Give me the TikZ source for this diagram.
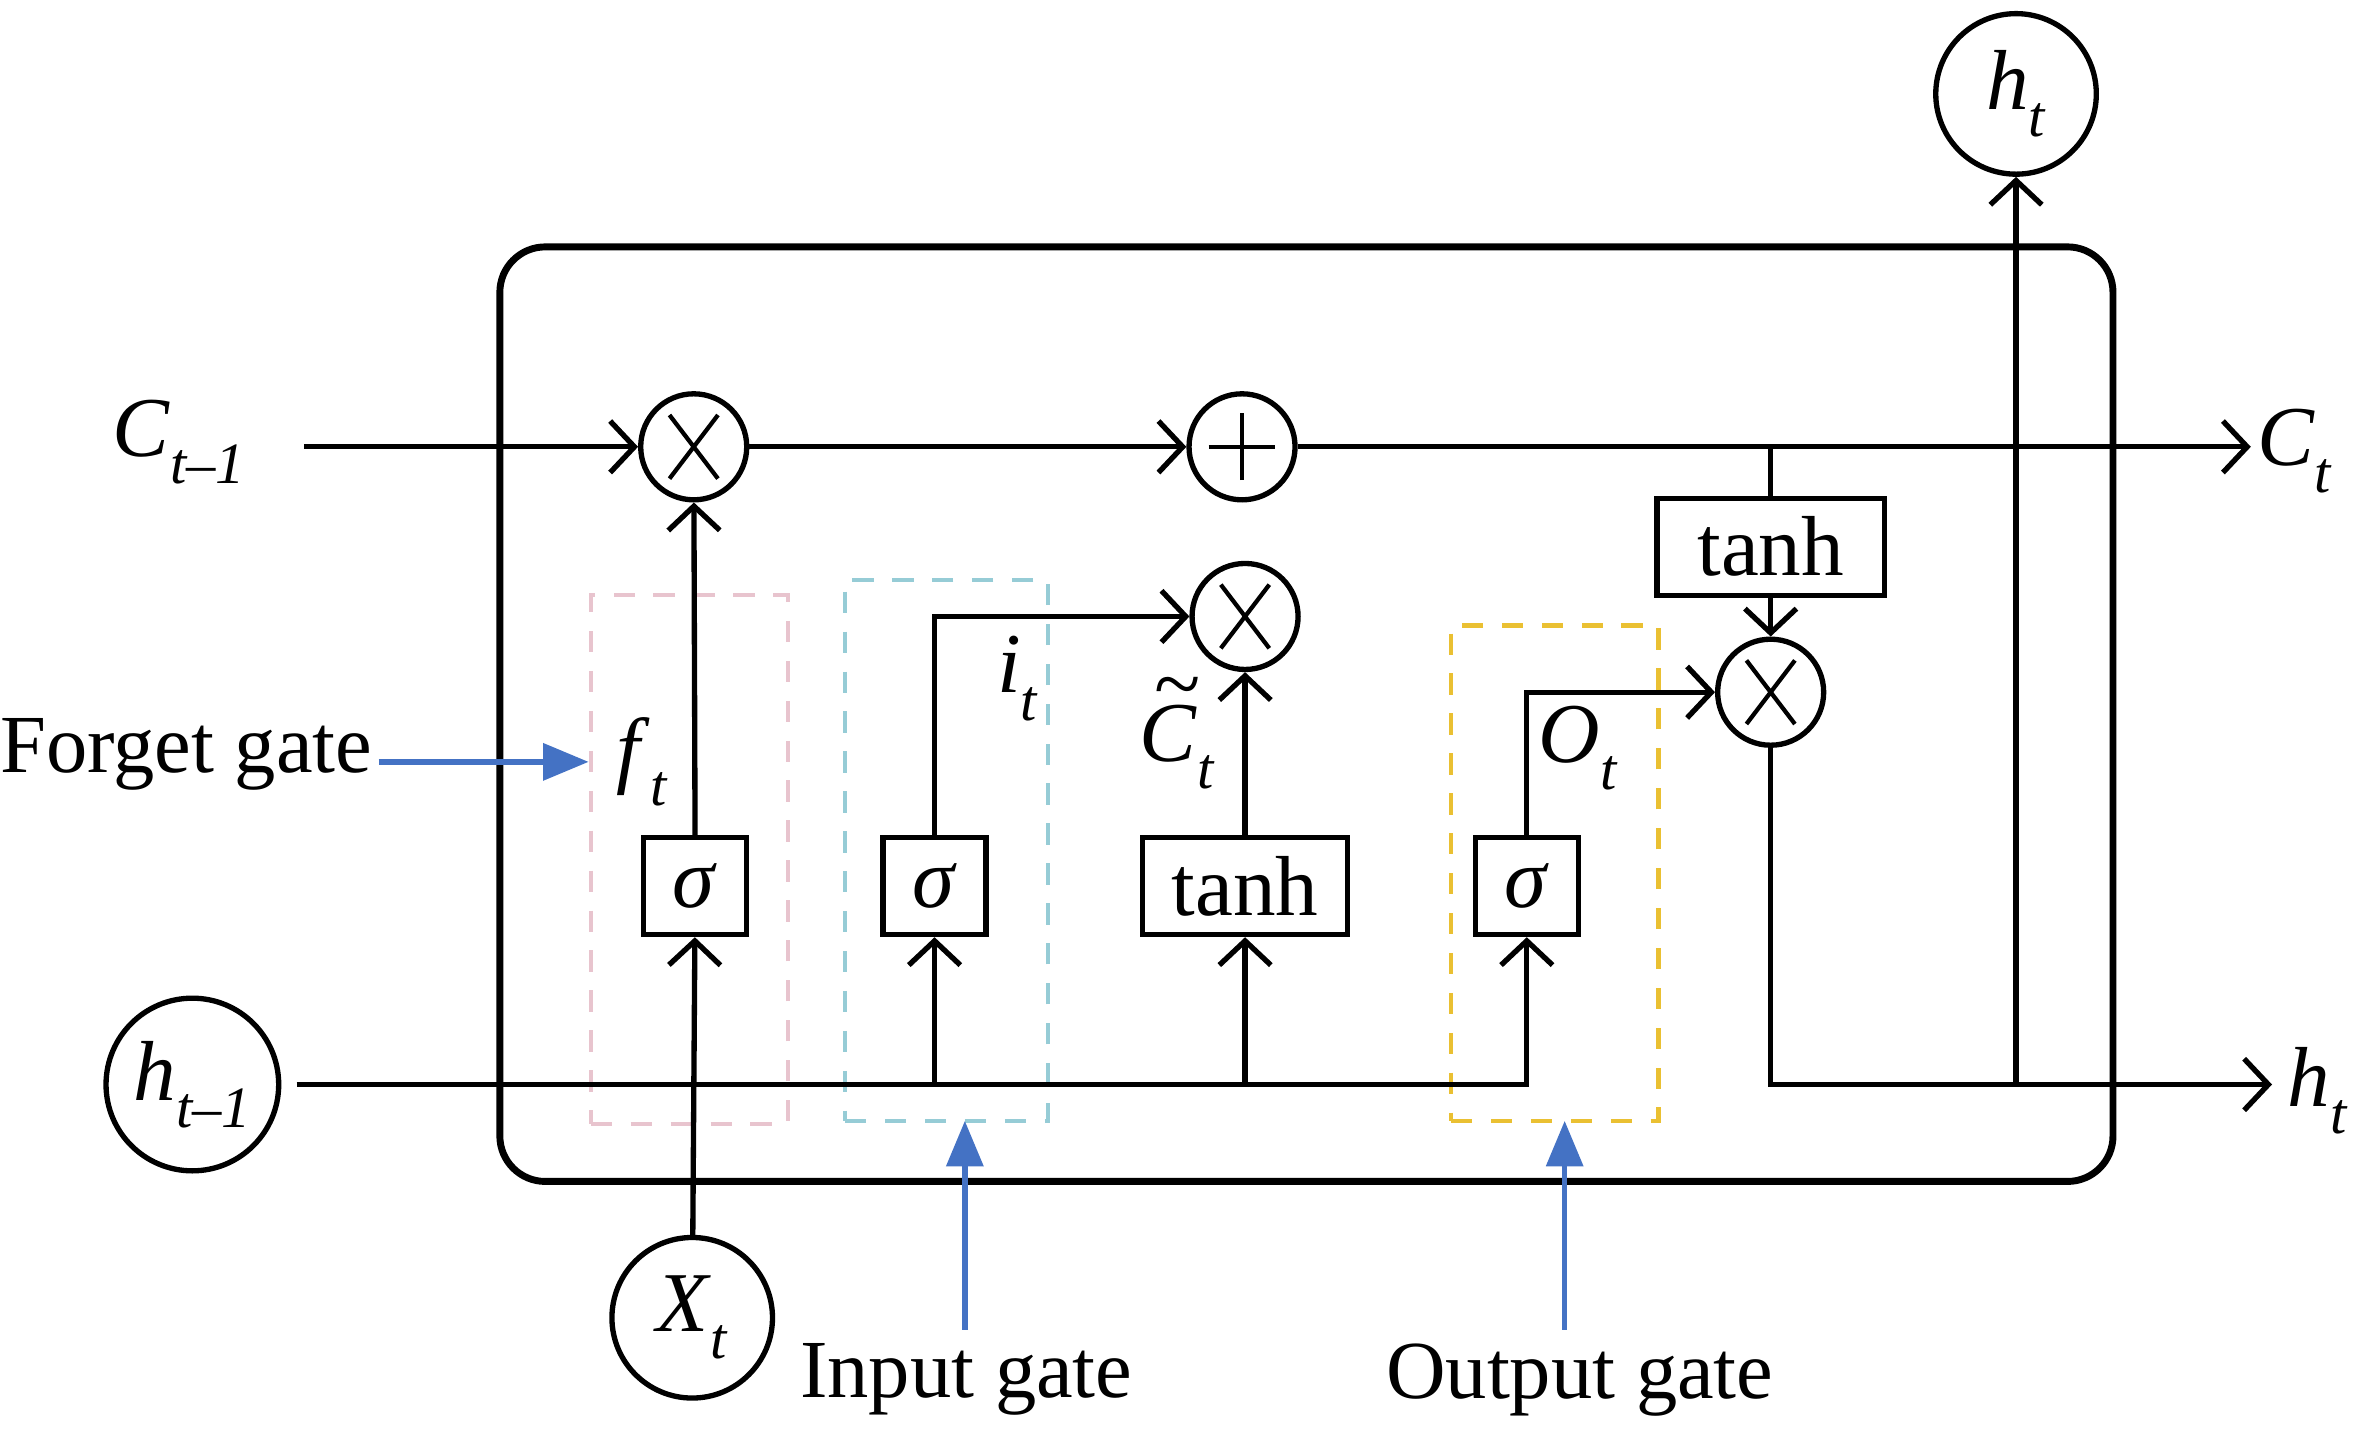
\documentclass[tikz,border=0pt]{standalone}
\usepackage{fontspec}
\setmainfont{Liberation Serif}
\usetikzlibrary{positioning}
\usetikzlibrary{arrows.meta}

\definecolor{gateblue}{RGB}{68,114,196}
\definecolor{fpink}{RGB}{232,196,206}
\definecolor{icyan}{RGB}{150,204,214}
\definecolor{oyellow}{RGB}{234,192,50}

\newcommand{\vsub}[2]{\textit{#1}\raisebox{-0.32em}{\fontsize{11}{12}\selectfont\textit{#2}}}
\newcommand{\ctil}{\rlap{\hspace{0.16em}\raisebox{0.58em}{\textit{\char"7E}}}\textit{C}}

\tikzset{
  wire/.style={line width=1pt},
  arr/.style={wire,-{Straight Barb[length=1.6mm,width=3.4mm]}},
  gatearr/.style={gateblue,line width=1pt,-{Triangle[length=3mm,width=2.4mm]}},
  op/.style={circle,draw,line width=1pt,minimum size=0.7cm,inner sep=0pt},
  mul/.style={op,path picture={
    \draw[line width=0.8pt] ([xshift=-1.6mm,yshift=-2.1mm]path picture bounding box.center) -- ++(3.2mm,4.2mm)
      ([xshift=-1.6mm,yshift=2.1mm]path picture bounding box.center) -- ++(3.2mm,-4.2mm);}},
  plus/.style={op,path picture={
    \draw[line width=0.8pt] ([xshift=-2.2mm]path picture bounding box.center) -- ++(4.4mm,0)
      ([yshift=-2.2mm]path picture bounding box.center) -- ++(0,4.4mm);}},
  state/.style={circle,draw,line width=1pt,minimum size=1.06cm,inner sep=0pt},
  layer/.style={draw,line width=1pt,minimum height=0.64cm,inner sep=1pt,font=\fontsize{16}{18}\selectfont},
  gatebox/.style={draw,line width=0.8pt,dash pattern=on 4pt off 3.5pt,inner sep=0pt},
  txt/.style={inner sep=1pt,font=\fontsize{16}{18}\selectfont},
  gname/.style={inner sep=1pt,font=\fontsize{15.5}{18}\selectfont},
}

\begin{document}
\begin{tikzpicture}
\useasboundingbox (0,0) rectangle (15.68,9.58);
% cell
\draw[line width=1.3pt,rounded corners=0.3cm] (3.30,1.78) rectangle (13.95,7.95);
% gates
\node (fbox) [gatebox,fpink,minimum width=1.30cm,minimum height=3.49cm] at (4.55,3.905) {};
\node (ibox) [gatebox,icyan,minimum width=1.34cm,minimum height=3.57cm] at (6.25,3.965) {};
\node (obox) [gatebox,oyellow,minimum width=1.37cm,minimum height=3.27cm] at (10.265,3.815) {};
% operations
\node (fmul) [mul] at (4.58,6.63) {};
\node (add) [plus] at (8.20,6.63) {};
\node (imul) [mul] at (8.22,5.51) {};
\node (omul) [mul] at (11.69,5.01) {};
\node (ttanh) [layer,minimum width=1.50cm] at (11.69,5.97) {tanh};
\node (fsig) [layer,minimum width=0.68cm] at (4.59,3.73) {\textit{σ}};
\node (isig) [layer,minimum width=0.68cm] at (6.17,3.73) {\textit{σ}};
\node (ctanh) [layer,minimum width=1.35cm] at (8.22,3.73) {tanh};
\node (osig) [layer,minimum width=0.68cm] at (10.08,3.73) {\textit{σ}};
% inputs and outputs
\node (cprev) [txt] at (1.18,6.66) {\vsub{C}{t–1}};
\node (cnext) [txt,anchor=west] at (14.86,6.60) {\vsub{C}{t}};
\node (hprev) [state,minimum size=1.14cm,txt] at (1.27,2.42) {\vsub{h}{t–1}};
\node (hnext) [txt,anchor=west] at (15.06,2.38) {\vsub{h}{t}};
\node (htop) [state,txt] at (13.31,8.96) {\vsub{h}{t}};
\node (xin) [state,txt] at (4.57,0.88) {\vsub{X}{t}};
\coordinate (cjoin) at (11.69,6.63);
\coordinate (hturn) at (10.08,2.42);
\coordinate (hjoin) at (13.31,2.42);
% values
\node (ft) [txt] at (4.24,4.55) {\vsub{f}{t}};
\node (it) [txt] at (6.72,5.10) {\vsub{i}{t}};
\node (ct) [txt] at (7.77,4.74) {\vsub{\ctil}{t}};
\node (ot) [txt] at (10.42,4.64) {\vsub{O}{t}};
% cell state
\draw [arr,shorten <=0.35cm] (cprev.east |- fmul) -- (fmul);
\draw [arr] (fmul) -- (add);
\draw [arr] (add) -- (add -| cnext.west);
\draw [wire] (cjoin) -- (ttanh);
\draw [arr] (ttanh) -- (omul);
% hidden state
\draw [arr,shorten <=0.1cm] (hprev.east) -- (hturn) -- (osig);
\draw [arr] (isig |- hturn) -- (isig);
\draw [arr] (ctanh |- hturn) -- (ctanh);
\draw [arr] (xin) -- (fsig);
\draw [arr] (fsig) -- (fmul);
\draw [arr] (isig) |- (imul);
\draw [arr] (ctanh) -- (imul);
\draw [arr] (osig) |- (omul);
\draw [arr] (omul) |- ([xshift=-0.06cm]hnext.west |- hjoin);
\draw [arr] (hjoin) -- (htop);
% gate labels
\node (fname) [gname,anchor=east] at (2.50,4.60) {Forget gate};
\node (iname) [gname] at (6.38,0.47) {Input gate};
\node (oname) [gname] at (10.43,0.47) {Output gate};
\draw [gatearr] (fname.east |- ft) -- (fbox.west |- ft);
\draw [gatearr] (6.37,0.80) -- (6.37,2.18);
\draw [gatearr] (10.33,0.80) -- (10.33,2.18);
\end{tikzpicture}
\end{document}
